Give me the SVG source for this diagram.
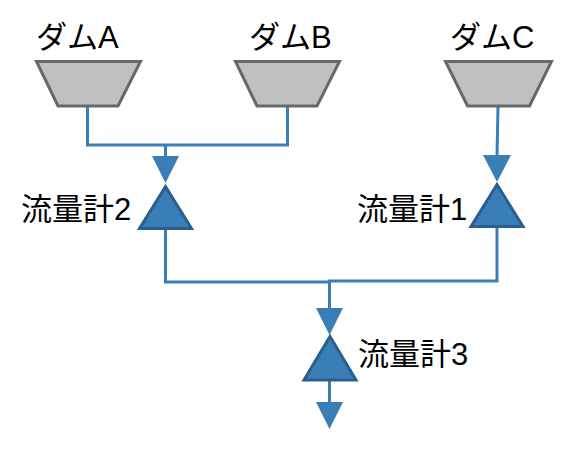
<svg xmlns="http://www.w3.org/2000/svg" width="585" height="458" viewBox="0 0 585 458">
<style>
.dam{fill:#c0c0c0;stroke:#686868;stroke-width:3}
.meter{fill:#3a7eb8;stroke:#2a5f8c;stroke-width:3;stroke-linejoin:miter}
.wire{fill:none;stroke:#3a7eb8;stroke-width:3}
.head{fill:#3a7eb8;stroke:none}
text{font-family:"Liberation Sans","Noto Sans CJK JP",sans-serif;font-size:31px;fill:#000}
</style>
<rect width="585" height="458" fill="#fff"/>
<g id="connectors">
<path class="wire" d="M87.5 106V145H287.5V106"/>
<path class="wire" d="M165.5 145V158"/>
<polygon class="head" points="152,156 179,156 165.5,183"/>
<path class="wire" d="M498 106L497 157"/>
<polygon class="head" points="483,155 511,155 497,182"/>
<path class="wire" d="M165.5 229V282H329.5"/>
<path class="wire" d="M497 227V281H329.5V310"/>
<polygon class="head" points="316,308 343,308 329.5,335"/>
<path class="wire" d="M329.5 381V404"/>
<polygon class="head" points="316,402 343,402 329.5,429"/>
</g>
<g id="damA"><polygon class="dam" points="36.5,61.5 140.5,61.5 118,106 58,106"/><text x="36" y="48">ダムA</text></g>
<g id="damB"><polygon class="dam" points="235.5,61.5 339.5,61.5 317,106 257,106"/><text x="249" y="48">ダムB</text></g>
<g id="damC"><polygon class="dam" points="445.5,61.5 551.5,61.5 529.5,106 467.5,106"/><text x="450" y="48">ダムC</text></g>
<g id="meter2"><polygon class="meter" points="165.5,186.5 191.5,228.5 139.5,228.5"/><text x="21" y="220">流量計2</text></g>
<g id="meter1"><polygon class="meter" points="497,184.5 523,226.5 471,226.5"/><text x="357" y="220">流量計1</text></g>
<g id="meter3"><polygon class="meter" points="330,336.5 356,380 304,380"/><text x="358" y="365">流量計3</text></g>
</svg>
